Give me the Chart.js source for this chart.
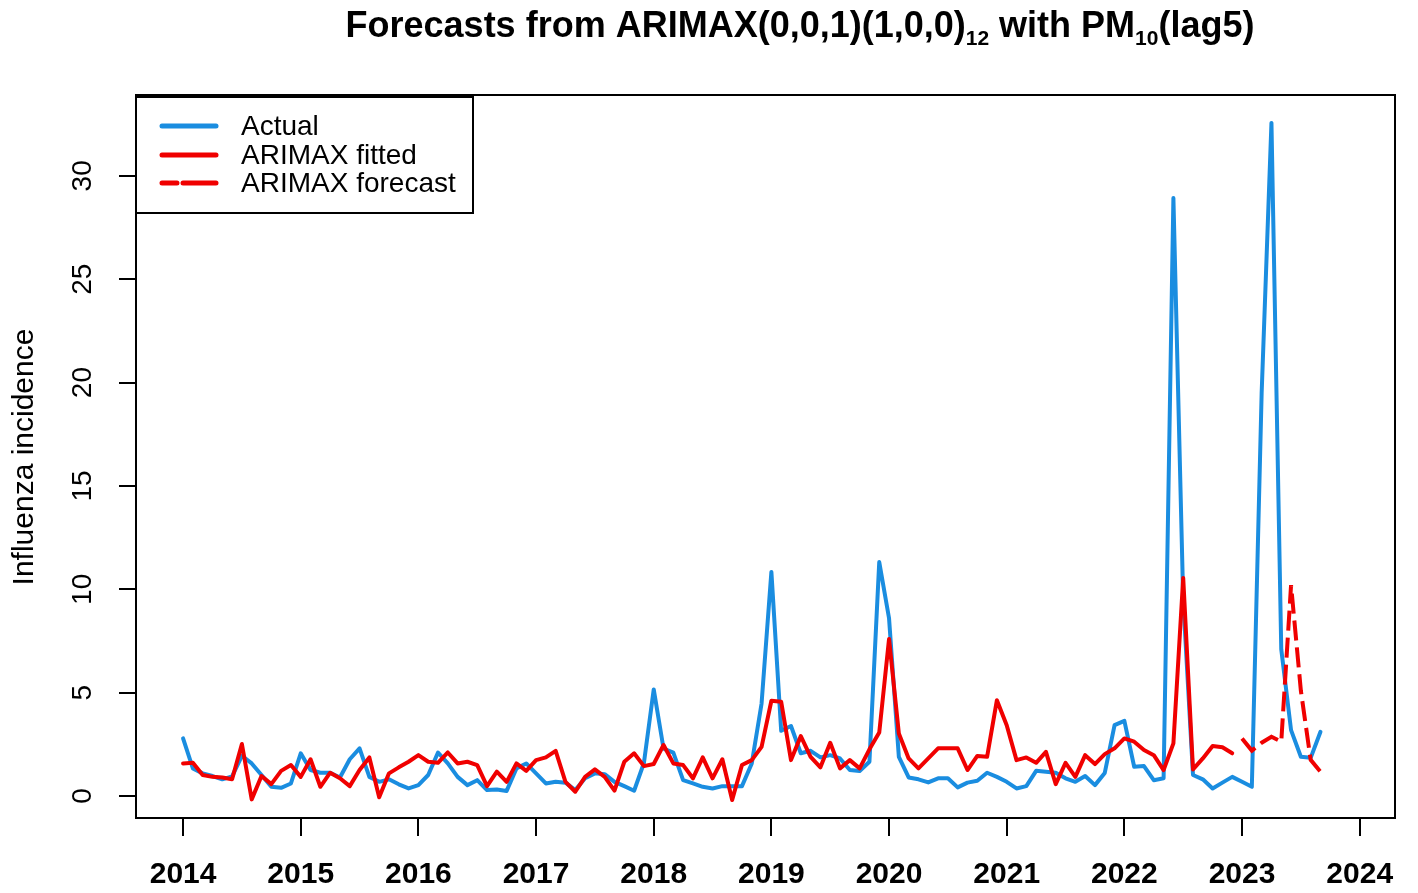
<!DOCTYPE html>
<html>
<head>
<meta charset="utf-8">
<script src="https://cdn.jsdelivr.net/npm/chart.js@4.4.1/dist/chart.umd.min.js"></script>
<style>
  html, body { margin: 0; padding: 0; background: #fff; }
  #wrap { width: 1418px; height: 893px; }
</style>
</head>
<body>
<div id="wrap"><canvas id="cv" width="1418" height="893"></canvas></div>
<script>
// monthly series, Jan 2014 onwards
const startYear = 2014;
const actual = [
  2.79, 1.34, 1.10, 0.97, 0.81, 0.95, 1.95, 1.58, 1.02, 0.45, 0.40, 0.61,
  2.07, 1.26, 1.13, 1.13, 0.90, 1.78, 2.31, 0.93, 0.69, 0.81, 0.57, 0.37,
  0.53, 1.02, 2.11, 1.58, 0.93, 0.53, 0.77, 0.29, 0.32, 0.25, 1.34, 1.58,
  1.10, 0.61, 0.69, 0.65, 0.29, 0.86, 1.10, 1.06, 0.69, 0.48, 0.26, 1.60,
  5.16, 2.30, 2.10, 0.77, 0.61, 0.45, 0.37, 0.48, 0.48, 0.48, 1.58, 4.48,
  10.84, 3.16, 3.39, 2.07, 2.19, 1.87, 1.98, 1.82, 1.26, 1.21, 1.66, 11.32,
  8.60, 1.90, 0.90, 0.81, 0.66, 0.86, 0.86, 0.42, 0.65, 0.74, 1.13, 0.93,
  0.69, 0.37, 0.48, 1.22, 1.18, 1.13, 0.86, 0.69, 0.97, 0.53, 1.12, 3.43,
  3.64, 1.42, 1.45, 0.77, 0.86, 28.93, 9.50, 1.02, 0.81, 0.37, 0.65, 0.93,
  0.69, 0.45, 19.50, 32.56, 7.10, 3.19, 1.90, 1.85, 3.11
];
const fitted = [
  1.58, 1.61, 1.02, 0.93, 0.90, 0.81, 2.52, -0.16, 0.97, 0.58, 1.22, 1.50,
  0.93, 1.78, 0.45, 1.13, 0.86, 0.48, 1.26, 1.87, -0.06, 1.10, 1.39, 1.66,
  1.98, 1.66, 1.61, 2.11, 1.58, 1.66, 1.50, 0.48, 1.18, 0.69, 1.58, 1.22,
  1.74, 1.87, 2.19, 0.69, 0.21, 0.93, 1.29, 0.93, 0.26, 1.66, 2.07, 1.45,
  1.55, 2.47, 1.58, 1.50, 0.86, 1.87, 0.86, 1.78, -0.19, 1.50, 1.74, 2.38,
  4.61, 4.56, 1.74, 2.90, 1.90, 1.39, 2.58, 1.34, 1.74, 1.34, 2.26, 3.07,
  7.60, 3.03, 1.82, 1.34, 1.82, 2.31, 2.31, 2.31, 1.26, 1.94, 1.90, 4.64,
  3.43, 1.74, 1.87, 1.61, 2.14, 0.58, 1.61, 0.93, 1.98, 1.55, 2.03, 2.31,
  2.79, 2.63, 2.23, 1.98, 1.26, 2.55, 10.55, 1.29, 1.82, 2.42, 2.36, 2.07
];
const forecastStart = 108; // Jan 2023
const forecast = [2.79, 2.20, 2.58, 2.87, 2.63, 10.20, 5.10, 1.75, 1.18];

const yearTicks = [2014, 2015, 2016, 2017, 2018, 2019, 2020, 2021, 2022, 2023, 2024];
const yTicks = [0, 5, 10, 15, 20, 25, 30];

const toPoints = (arr, offset) => arr.map((v, i) => ({ x: startYear + (i + offset) / 12, y: v }));

const blue = '#1a8de0';
const red = '#f00000';
const font = 'Liberation Sans, Arial, sans-serif';

// R-like decorations: box, rotated y labels, title with subscripts, legend
const rStyle = {
  id: 'rStyle',
  afterDraw(chart) {
    const c = chart.ctx;
    const a = chart.chartArea;
    const ys = chart.scales.y;
    c.save();
    c.strokeStyle = '#000';
    c.lineWidth = 2;
    c.strokeRect(a.left, a.top, a.right - a.left, a.bottom - a.top);

    // y tick labels, rotated as in base R
    c.fillStyle = '#000';
    c.font = '28px ' + font;
    c.textAlign = 'center';
    c.textBaseline = 'alphabetic';
    yTicks.forEach(v => {
      const py = ys.getPixelForValue(v);
      c.save();
      c.translate(91, py);
      c.rotate(-Math.PI / 2);
      c.fillText(String(v), 0, 0);
      c.restore();
    });

    // y title
    c.save();
    c.font = '30px ' + font;
    c.translate(33, 457);
    c.rotate(-Math.PI / 2);
    c.fillText('Influenza incidence', 0, 0);
    c.restore();

    // title
    const parts = [
      ['Forecasts from ARIMAX(0,0,1)(1,0,0)', false],
      ['12', true],
      [' with PM', false],
      ['10', true],
      ['(lag5)', false]
    ];
    const big = 'bold 36px ' + font;
    const small = 'bold 21px ' + font;
    let w = 0;
    parts.forEach(p => { c.font = p[1] ? small : big; w += c.measureText(p[0]).width; });
    let x = 800 - w / 2;
    c.textAlign = 'left';
    parts.forEach(p => {
      c.font = p[1] ? small : big;
      c.fillText(p[0], x, p[1] ? 45 : 37);
      x += c.measureText(p[0]).width;
    });

    // legend
    c.fillStyle = '#fff';
    c.fillRect(a.left, 97, 337, 116);
    c.strokeRect(a.left, 97, 337, 116);
    const items = [
      ['Actual', blue, []],
      ['ARIMAX fitted', red, []],
      ['ARIMAX forecast', red, [15, 6, 40, 6]]
    ];
    const rows = [126, 155, 183];
    c.lineCap = 'round';
    c.lineWidth = 5;
    items.forEach((it, k) => {
      c.strokeStyle = it[1];
      c.setLineDash(it[2]);
      c.beginPath();
      c.moveTo(162, rows[k]);
      c.lineTo(216, rows[k]);
      c.stroke();
      c.setLineDash([]);
      c.fillStyle = '#000';
      c.font = '28px ' + font;
      c.textBaseline = 'middle';
      c.fillText(it[0], 241, rows[k] + 1);
    });
    c.restore();
  }
};

new Chart(document.getElementById('cv'), {
  type: 'line',
  data: {
    datasets: [
      {
        label: 'ARIMAX forecast',
        data: toPoints(forecast, forecastStart),
        borderColor: red,
        borderWidth: 4,
        borderDash: [20, 7],
        pointRadius: 0,
        tension: 0,
        order: 1
      },
      {
        label: 'ARIMAX fitted',
        data: toPoints(fitted, 0),
        borderColor: red,
        borderWidth: 4,
        pointRadius: 0,
        tension: 0,
        borderJoinStyle: 'round',
        borderCapStyle: 'round',
        order: 2
      },
      {
        label: 'Actual',
        data: toPoints(actual, 0),
        borderColor: blue,
        borderWidth: 4,
        pointRadius: 0,
        tension: 0,
        borderJoinStyle: 'round',
        borderCapStyle: 'round',
        order: 3
      }
    ]
  },
  options: {
    responsive: false,
    devicePixelRatio: 1,
    animation: false,
    layout: { padding: { top: 95, right: 23, left: 0, bottom: 0 } },
    plugins: {
      legend: { display: false },
      title: { display: false },
      tooltip: { enabled: false }
    },
    scales: {
      x: {
        type: 'linear',
        min: 2013.6,
        max: 2024.3,
        afterBuildTicks: s => { s.ticks = yearTicks.map(v => ({ value: v })); },
        afterFit: s => { s.height = 75; },
        grid: { drawOnChartArea: false, drawTicks: true, tickLength: 18, color: '#000', lineWidth: 2 },
        border: { display: true, color: '#000', width: 2 },
        ticks: {
          color: '#000',
          font: { family: font, size: 30, weight: 'bold' },
          padding: 21,
          maxRotation: 0,
          autoSkip: false,
          callback: v => String(v)
        }
      },
      y: {
        min: -1.06,
        max: 33.91,
        afterBuildTicks: s => { s.ticks = yTicks.map(v => ({ value: v })); },
        afterFit: s => { s.width = 136; },
        grid: { drawOnChartArea: false, drawTicks: true, tickLength: 17, color: '#000', lineWidth: 2 },
        border: { display: true, color: '#000', width: 2 },
        ticks: { display: false }
      }
    }
  },
  plugins: [rStyle]
});
</script>
</body>
</html>
